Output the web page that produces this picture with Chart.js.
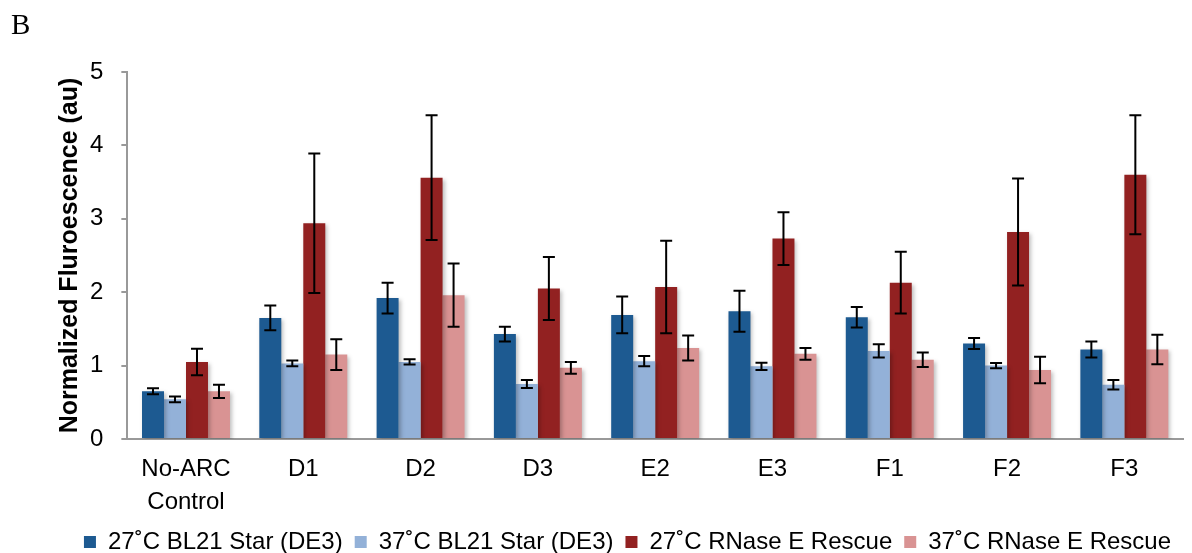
<!DOCTYPE html>
<html>
<head>
<meta charset="utf-8">
<script src="https://cdn.jsdelivr.net/npm/chart.js@4/dist/chart.umd.min.js"></script>
<style>
  body { margin: 0; background: #fff; }
  #wrap { position: relative; width: 1192px; height: 553px; }
  #panel { position: absolute; left: 11px; top: 8px; font: 29px "Liberation Serif", serif; color: #000; }
</style>
</head>
<body>
<div id="wrap">
  <div id="panel">B</div>
  <canvas id="fluoChart" width="1192" height="553"></canvas>
</div>
<script>
const categories = [["No-ARC", "Control"], "D1", "D2", "D3", "E2", "E3", "F1", "F2", "F3"];
const seriesNames = ["27˚C BL21 Star (DE3)", "37˚C BL21 Star (DE3)", "27˚C RNase E Rescue", "37˚C RNase E Rescue"];

const bl21At27 = [0.65, 1.65, 1.92, 1.43, 1.69, 1.74, 1.66, 1.30, 1.22];
const bl21At37 = [0.54, 1.03, 1.05, 0.75, 1.06, 0.99, 1.20, 1.00, 0.74];
const rescueAt27 = [1.05, 2.94, 3.56, 2.05, 2.07, 2.73, 2.13, 2.82, 3.60];
const rescueAt37 = [0.65, 1.15, 1.96, 0.97, 1.24, 1.16, 1.08, 0.94, 1.22];

const bl21At27Err = [0.04, 0.17, 0.21, 0.10, 0.25, 0.28, 0.14, 0.075, 0.11];
const bl21At37Err = [0.04, 0.04, 0.035, 0.055, 0.07, 0.05, 0.09, 0.035, 0.065];
const rescueAt27Err = [0.18, 0.95, 0.85, 0.43, 0.63, 0.36, 0.42, 0.73, 0.81];
const rescueAt37Err = [0.09, 0.21, 0.43, 0.08, 0.17, 0.08, 0.10, 0.18, 0.20];

const yTicks = [0, 1, 2, 3, 4, 5];

const colors = ["#1d5a91", "#93b1d8", "#922121", "#d99393"];

// draws the black error bars on top of every bar
const errorBars = {
  id: 'errorBars',
  afterDatasetsDraw(chart) {
    const ctx = chart.ctx;
    const y = chart.scales.y;
    ctx.save();
    ctx.strokeStyle = '#000';
    ctx.lineWidth = 2;
    chart.data.datasets.forEach((ds, i) => {
      const meta = chart.getDatasetMeta(i);
      meta.data.forEach((bar, j) => {
        const v = ds.data[j];
        const e = ds.errors[j];
        const top = y.getPixelForValue(v + e);
        const bot = y.getPixelForValue(v - e);
        ctx.beginPath();
        ctx.moveTo(bar.x, top);
        ctx.lineTo(bar.x, bot);
        ctx.moveTo(bar.x - 6, top);
        ctx.lineTo(bar.x + 6, top);
        ctx.moveTo(bar.x - 6, bot);
        ctx.lineTo(bar.x + 6, bot);
        ctx.stroke();
      });
    });
    ctx.restore();
  }
};

// soft shadow under the bars
const barShadow = {
  id: 'barShadow',
  beforeDatasetsDraw(chart) {
    const ctx = chart.ctx;
    ctx.save();
    ctx.shadowColor = 'rgba(0,0,0,0.25)';
    ctx.shadowBlur = 4;
    ctx.shadowOffsetX = 2;
    ctx.shadowOffsetY = 2;
  },
  afterDatasetsDraw(chart) {
    chart.ctx.restore();
  }
};

const values = [bl21At27, bl21At37, rescueAt27, rescueAt37];
const errs = [bl21At27Err, bl21At37Err, rescueAt27Err, rescueAt37Err];

const ctx = document.getElementById("fluoChart").getContext("2d");
new Chart(ctx, {
  type: "bar",
  data: {
    labels: categories,
    datasets: seriesNames.map((name, i) => ({
      label: name,
      data: values[i],
      errors: errs[i],
      backgroundColor: colors[i],
      borderWidth: 0,
      categoryPercentage: 0.75,
      barPercentage: 1.0
    }))
  },
  options: {
    responsive: false,
    animation: false,
    layout: { padding: { left: 55, right: 9, top: 72, bottom: -11 } },
    scales: {
      x: {
        grid: { display: false, drawTicks: false },
        border: { color: "#999", width: 2 },
        ticks: { color: "#000", font: { family: "Liberation Sans", size: 24, lineHeight: 1.375 }, padding: 14 },
        afterFit: axis => { axis.height = 79; }
      },
      y: {
        min: 0,
        max: 5,
        afterBuildTicks: axis => { axis.ticks = yTicks.map(v => ({ value: v })); },
        grid: { drawOnChartArea: false, drawTicks: true, tickLength: 6, color: "#999", lineWidth: 2 },
        border: { color: "#999", width: 2 },
        ticks: { color: "#000", font: { family: "Liberation Sans", size: 24 }, padding: 18 },
        title: {
          display: true,
          text: "Normalized Fluroescence (au)",
          color: "#000",
          font: { family: "Liberation Sans", size: 25, weight: "bold" },
          padding: { top: 0, bottom: -13 }
        }
      }
    },
    plugins: {
      legend: {
        position: "bottom",
        align: "end",
        labels: {
          color: "#000",
          font: { family: "Liberation Sans", size: 24 },
          boxWidth: 12,
          boxHeight: 12,
          padding: 12
        }
      },
      tooltip: { enabled: false }
    }
  },
  plugins: [barShadow, errorBars]
});
</script>
</body>
</html>
